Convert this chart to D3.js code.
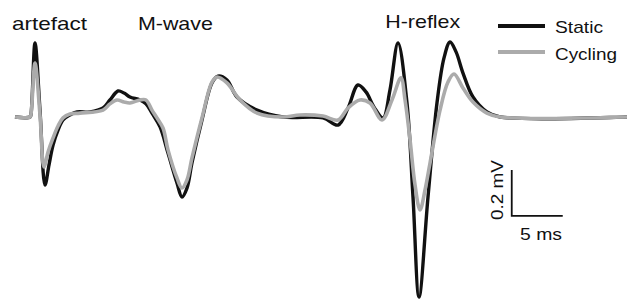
<!DOCTYPE html>
<html>
<head>
<meta charset="utf-8">
<script src="https://cdn.jsdelivr.net/npm/d3@7"></script>
<style>
  body { margin: 0; background: #fff; }
  text { font-family: "Liberation Sans", Arial, sans-serif; fill: #111; }
</style>
</head>
<body>
<div id="chart"></div>
<script>
// Time (ms) and amplitude (mV)
var staticTime = [0, 1.47, 1.57, 1.96, 2.45, 2.94, 3.33, 3.73, 4.22, 4.71, 5.39, 6.08, 7.35, 8.63, 9.31, 10.10, 10.69, 11.27, 12.25, 12.84, 13.43, 14.22, 15.0, 15.88, 16.37, 16.86, 17.35, 18.33, 19.31, 19.90, 20.78, 21.76, 23.73, 26.27, 30.20, 31.67, 32.65, 33.63, 34.41, 35.20, 36.08, 36.76, 37.55, 38.43, 39.02, 39.61, 40.49, 41.37, 42.06, 42.65, 43.24, 43.92, 44.90, 46.27, 47.55, 60];
var staticMv = [0, 0, 0.013, 0.322, 0.030, -0.296, -0.209, -0.122, -0.057, -0.013, 0.009, 0.022, 0.022, 0.039, 0.074, 0.113, 0.104, 0.087, 0.074, 0.057, 0.017, -0.043, -0.157, -0.287, -0.348, -0.309, -0.200, -0.013, 0.148, 0.178, 0.161, 0.087, 0.030, 0, -0.004, -0.035, 0.039, 0.139, 0.109, 0.043, -0.004, 0.117, 0.322, 0.061, -0.348, -0.783, -0.348, 0.061, 0.257, 0.326, 0.283, 0.191, 0.087, 0.022, 0, 0];

var cyclingTime = [0, 1.47, 1.57, 1.96, 2.45, 2.84, 3.24, 3.73, 4.22, 4.71, 5.39, 6.37, 8.63, 9.31, 10.0, 10.69, 11.27, 12.25, 12.84, 13.43, 13.92, 14.51, 15.0, 15.88, 16.37, 16.86, 17.35, 18.33, 19.31, 19.80, 20.78, 22.06, 23.73, 26.27, 27.94, 30.20, 31.67, 32.65, 33.82, 34.80, 35.98, 36.96, 37.84, 38.24, 38.73, 39.22, 39.71, 40.20, 40.69, 41.67, 42.45, 43.04, 43.92, 44.90, 46.27, 47.55, 60];
var cyclingMv = [0, 0, 0.013, 0.235, 0.009, -0.217, -0.152, -0.091, -0.039, -0.004, 0.013, 0.017, 0.030, 0.057, 0.074, 0.065, 0.061, 0.074, 0.074, 0.030, -0.004, -0.048, -0.143, -0.265, -0.309, -0.274, -0.178, -0.004, 0.152, 0.174, 0.148, 0.074, 0.017, 0, 0.009, 0.004, -0.013, 0.039, 0.074, 0.061, -0.013, 0.074, 0.170, 0.074, -0.100, -0.296, -0.404, -0.317, -0.200, 0.030, 0.152, 0.187, 0.126, 0.065, 0.017, 0, 0];

var seriesNames = ["Static", "Cycling"];
var seriesColors = ["#111111", "#ababab"];

// component labels: [text, time (ms) of left edge]
var componentLabels = [["artefact", -0.3], ["M-wave", 12.05], ["H-reflex", 36.3]];

// scale bar: 5 ms by 0.2 mV
var barTime = 5, barMv = 0.2;

var width = 632, height = 300;

var svg = d3.select("#chart").append("svg")
  .attr("width", width)
  .attr("height", height);

// 10.2 px per ms, 230 px per mV
var x = d3.scaleLinear().domain([0, 60]).range([15, 627]);
var y = d3.scaleLinear().domain([-0.8, 0.4]).range([301, 25]);

var line = d3.line()
  .x(d => x(d[0]))
  .y(d => y(d[1]))
  .curve(d3.curveCatmullRom.alpha(0.5));

var staticData = staticTime.map((t, i) => [t, staticMv[i]]);
var cyclingData = cyclingTime.map((t, i) => [t, cyclingMv[i]]);

svg.append("path")
  .datum(staticData)
  .attr("d", line)
  .attr("fill", "none")
  .attr("stroke", seriesColors[0])
  .attr("stroke-width", 3.4)
  .attr("stroke-linejoin", "round");

svg.append("path")
  .datum(cyclingData)
  .attr("d", line)
  .attr("fill", "none")
  .attr("stroke", seriesColors[1])
  .attr("stroke-width", 3.6)
  .attr("stroke-linejoin", "round");

// component labels
var labelWidths = [75, 75, 75];
componentLabels.forEach((l, i) => {
  svg.append("text")
    .attr("x", x(l[1]))
    .attr("y", i == 2 ? 28 : 30)
    .attr("font-size", 19)
    .attr("textLength", labelWidths[i])
    .attr("lengthAdjust", "spacingAndGlyphs")
    .text(l[0]);
});

// legend
var legend = svg.append("g");
var legendWidths = [48, 62];
seriesNames.forEach((name, i) => {
  legend.append("line")
    .attr("x1", 498).attr("x2", 545)
    .attr("y1", 26 + i * 26).attr("y2", 26 + i * 26)
    .attr("stroke", seriesColors[i])
    .attr("stroke-width", 4);
  legend.append("text")
    .attr("x", 555)
    .attr("y", 33 + i * 27)
    .attr("font-size", 17)
    .attr("textLength", legendWidths[i])
    .attr("lengthAdjust", "spacingAndGlyphs")
    .text(name);
});

// scale bar
var t0 = 48.7, v0 = -0.43;
svg.append("path")
  .attr("d", `M${x(t0)},${y(v0 + barMv)} L${x(t0)},${y(v0)} L${x(t0 + barTime)},${y(v0)}`)
  .attr("fill", "none")
  .attr("stroke", "#111")
  .attr("stroke-width", 1.8);

svg.append("text")
  .attr("x", 520)
  .attr("y", 240)
  .attr("font-size", 17)
  .attr("textLength", 42)
  .attr("lengthAdjust", "spacingAndGlyphs")
  .text(barTime + " ms");

svg.append("text")
  .attr("transform", `translate(503, 190) rotate(-90)`)
  .attr("text-anchor", "middle")
  .attr("font-size", 17)
  .attr("textLength", 60)
  .attr("lengthAdjust", "spacingAndGlyphs")
  .text(barMv + " mV");
</script>
</body>
</html>
